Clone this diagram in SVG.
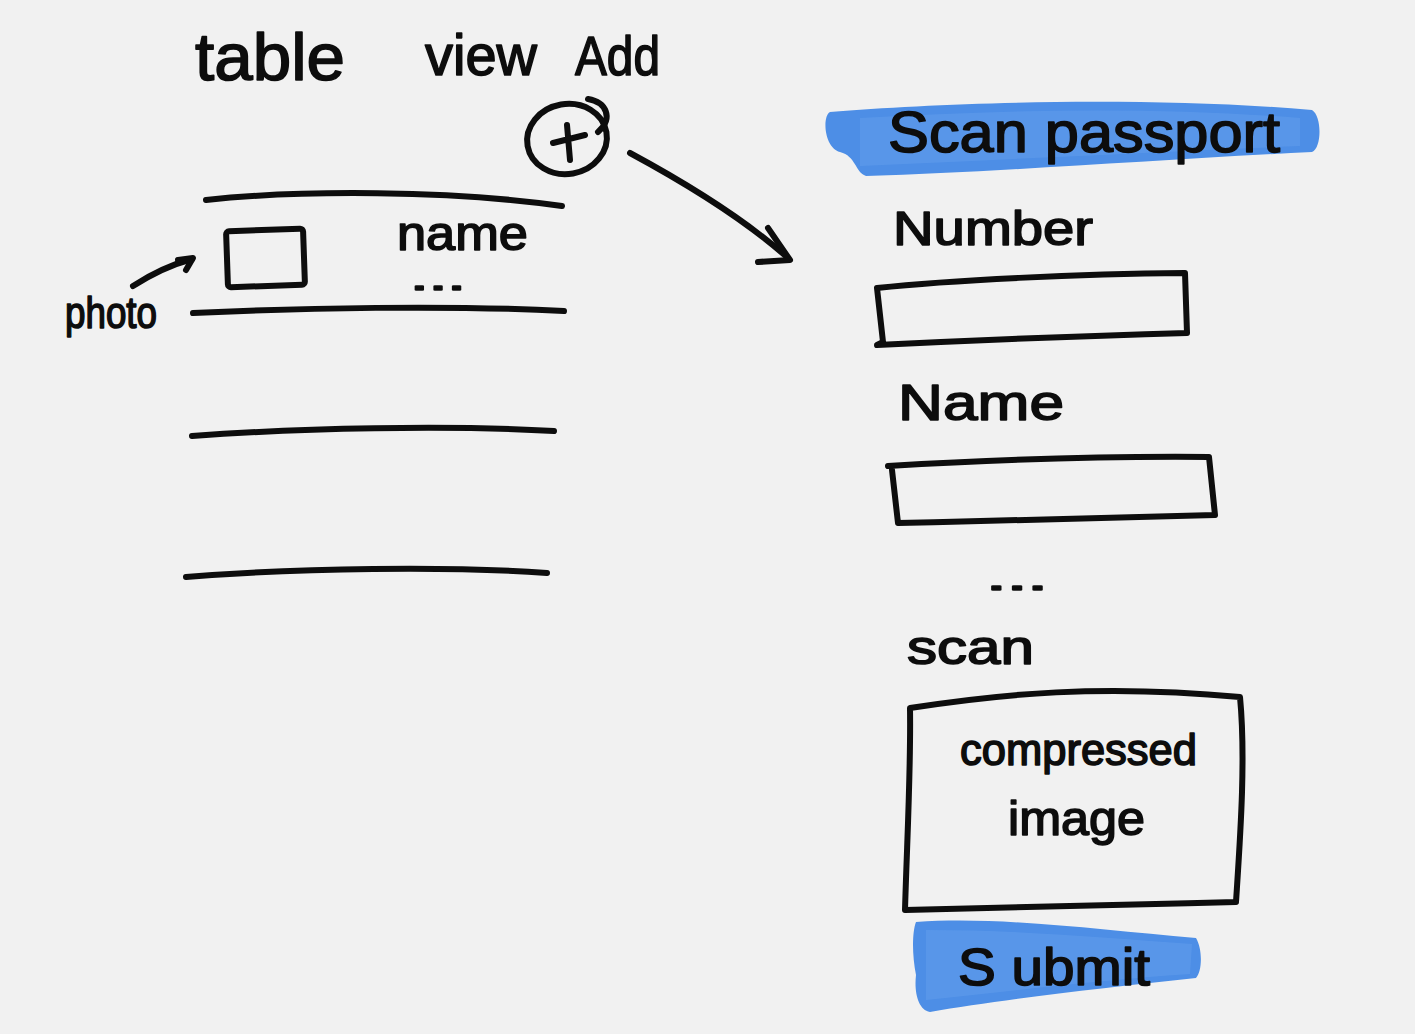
<svg xmlns="http://www.w3.org/2000/svg" width="1415" height="1034" viewBox="0 0 1415 1034">
<defs>
<style>
.ink{fill:none;stroke:#0d0d0d;stroke-width:6;stroke-linecap:round;stroke-linejoin:round}
.txt{font-family:"Liberation Sans","DejaVu Sans",sans-serif;fill:#0d0d0d;stroke:#0d0d0d;stroke-width:1.6;stroke-linejoin:round}
.hl{fill:#4d8ee6}
.hl2{fill:#5b98ea;opacity:0.8}
</style>
</defs>
<rect width="1415" height="1034" fill="#f1f1f1"/>

<g id="title">
<text class="txt" x="195" y="80" font-size="66" textLength="150" lengthAdjust="spacingAndGlyphs">table</text>
<text class="txt" x="425" y="75" font-size="58" textLength="112" lengthAdjust="spacingAndGlyphs">view</text>
<text class="txt" x="575" y="75" font-size="56" textLength="85" lengthAdjust="spacingAndGlyphs">Add</text>
</g>

<g id="add-button">
<ellipse class="ink" cx="567" cy="139" rx="40" ry="35" transform="rotate(-10 567 139)"/>
<path class="ink" d="M588 99 C606 102 614 118 598 132"/>
<path class="ink" d="M553 143 L585 135 M567 125 L570 160"/>
</g>

<g id="table-list">
<path class="ink" d="M206 200 C300 190 450 190 562 206"/>
<rect class="ink" x="227" y="230" width="77" height="56" rx="3" transform="rotate(-2 265 258)"/>
<text class="txt" x="397" y="250" font-size="48" textLength="131" lengthAdjust="spacingAndGlyphs">name</text>
<text class="txt" x="410" y="290" font-size="36" textLength="56" lengthAdjust="spacingAndGlyphs">...</text>
<path class="ink" d="M193 313 C300 308 450 305 564 311"/>
<path class="ink" d="M192 436 C300 428 450 425 554 431"/>
<path class="ink" d="M186 577 C300 568 450 566 547 573"/>
</g>

<g id="photo-label">
<text class="txt" x="65" y="328" font-size="44" textLength="92" lengthAdjust="spacingAndGlyphs">photo</text>
</g>

<g id="scan-passport">
<path class="hl" d="M830 112 C950 102 1150 96 1312 110 C1322 116 1322 148 1312 152 C1150 160 1000 172 866 176 C855 172 856 156 840 152 C824 148 822 116 830 112 Z"/>
<path class="hl2" d="M860 118 C1000 110 1150 106 1300 118 L1300 146 C1150 152 1000 160 860 166 Z"/>
<text class="txt" x="888" y="152" font-size="58" textLength="392" lengthAdjust="spacingAndGlyphs">Scan passport</text>
</g>

<g id="number-field">
<text class="txt" x="893" y="245" font-size="48" textLength="200" lengthAdjust="spacingAndGlyphs">Number</text>
<path class="ink" d="M877 288 C950 280 1080 274 1185 273 L1187 333 C1080 336 980 340 877 345 L883 342 Z"/>
</g>

<g id="name-field">
<text class="txt" x="898" y="420" font-size="50" textLength="166" lengthAdjust="spacingAndGlyphs">Name</text>
<path class="ink" d="M888 466 C990 460 1100 456 1209 457 L1215 515 C1100 518 1000 521 898 523 L892 470"/>
</g>

<g id="ellipsis">
<text class="txt" x="986" y="590" font-size="36" textLength="62" lengthAdjust="spacingAndGlyphs">...</text>
</g>

<g id="scan-image">
<text class="txt" x="907" y="664" font-size="48" textLength="127" lengthAdjust="spacingAndGlyphs">scan</text>
<path class="ink" d="M910 708 C1000 694 1100 684 1240 697 C1246 760 1240 840 1236 902 C1120 905 1000 908 905 910 C907 840 911 770 910 708 Z"/>
<text class="txt" x="960" y="765" font-size="44" textLength="237" lengthAdjust="spacingAndGlyphs">compressed</text>
<text class="txt" x="1008" y="835" font-size="48" textLength="137" lengthAdjust="spacingAndGlyphs">image</text>
</g>

<g id="submit">
<path class="hl" d="M916 922 C1000 916 1100 930 1196 938 C1203 950 1202 972 1196 978 C1100 988 1000 1000 930 1012 C918 1010 914 992 916 975 C912 955 912 932 916 922 Z"/>
<path class="hl2" d="M926 930 C1020 930 1110 938 1192 944 L1190 974 C1100 980 1020 990 926 1000 Z"/>
<text class="txt" x="958" y="985" font-size="52" textLength="192" lengthAdjust="spacingAndGlyphs">S ubmit</text>
</g>

<g id="connectors">
<path class="ink" d="M630 153 C680 180 740 215 788 258"/>
<path class="ink" d="M768 228 L790 260 L758 262"/>
<path class="ink" d="M133 286 C150 275 170 265 192 259"/>
<path class="ink" d="M178 260 L193 258 L186 270"/>
</g>
</svg>
